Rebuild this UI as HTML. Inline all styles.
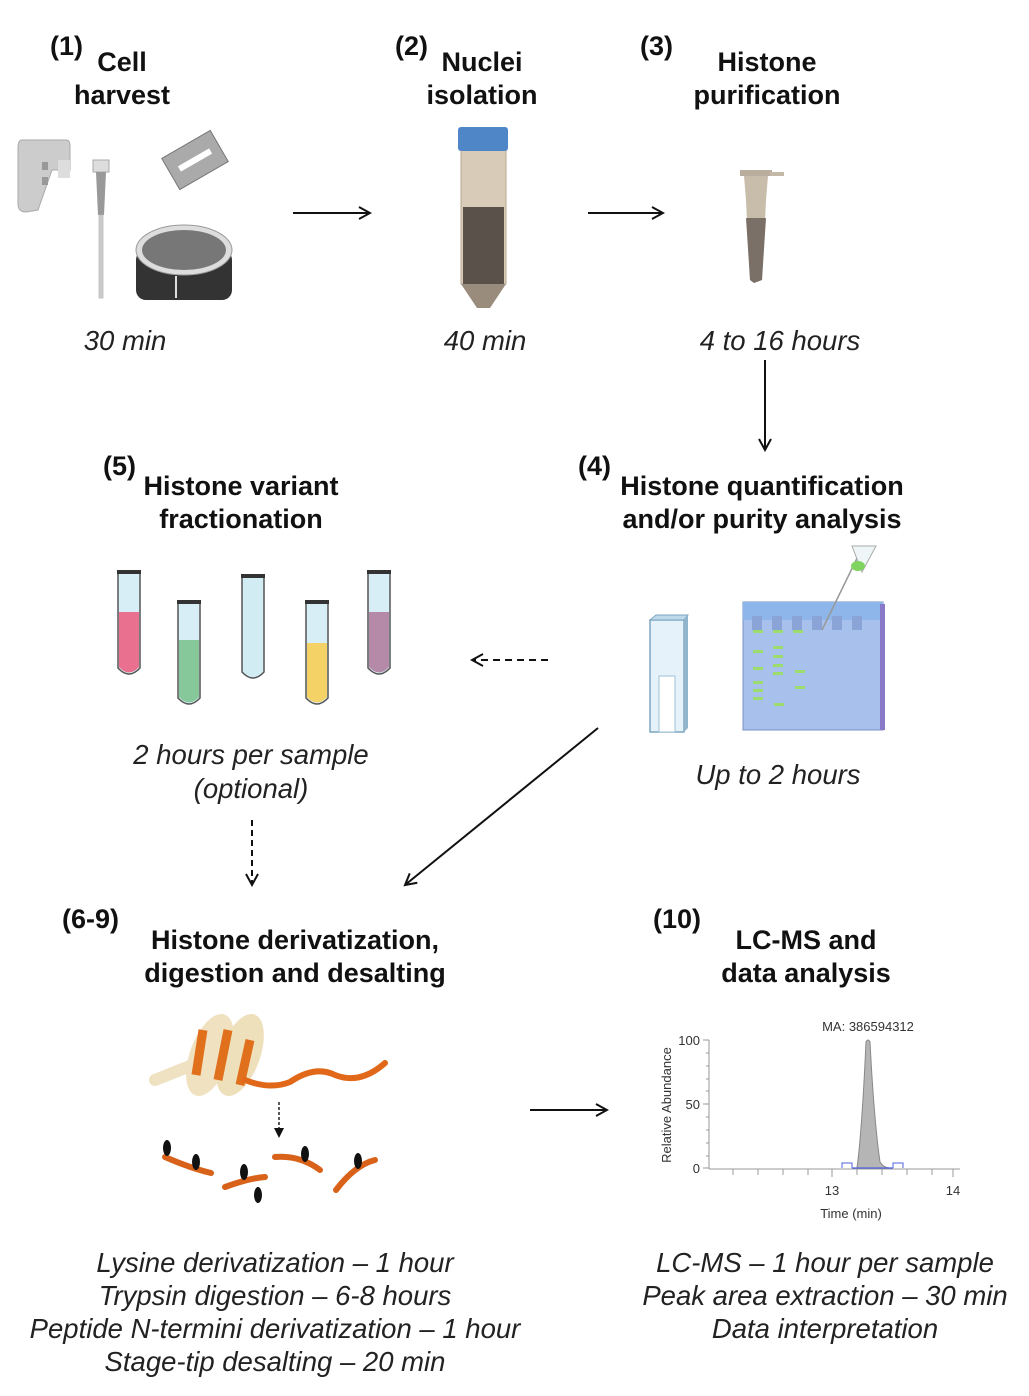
<!DOCTYPE html>
<html><head><meta charset="utf-8"><style>
html,body{margin:0;padding:0;background:#fff}
svg{display:block}
.b{font-family:"Liberation Sans",Arial,sans-serif;font-weight:bold;font-size:27px;fill:#111}
.i{font-family:"Liberation Sans",Arial,sans-serif;font-style:italic;font-size:27.5px;fill:#222}
.s{font-family:"Liberation Sans",Arial,sans-serif;font-size:13px;fill:#333}
</style></head><body>
<svg width="1029" height="1396" viewBox="0 0 1029 1396" xmlns="http://www.w3.org/2000/svg">
<defs>
<marker id="ah" markerWidth="14" markerHeight="14" refX="12" refY="7" orient="auto" markerUnits="userSpaceOnUse">
<path d="M1,1 L12,7 L1,13" fill="none" stroke="#111" stroke-width="2"/></marker>
<marker id="tri" markerWidth="10" markerHeight="10" refX="5" refY="5" orient="auto" markerUnits="userSpaceOnUse">
<path d="M0,0 L10,5 L0,10Z" fill="#111"/></marker>
</defs>

<text class="b" x="50" y="55">(1)</text>
<text class="b" x="122" y="71" text-anchor="middle">Cell</text>
<text class="b" x="122" y="104" text-anchor="middle">harvest</text>
<text class="b" x="395" y="55">(2)</text>
<text class="b" x="482" y="71" text-anchor="middle">Nuclei</text>
<text class="b" x="482" y="104" text-anchor="middle">isolation</text>
<text class="b" x="640" y="55">(3)</text>
<text class="b" x="767" y="71" text-anchor="middle">Histone</text>
<text class="b" x="767" y="104" text-anchor="middle">purification</text>

<text class="i" x="125" y="350" text-anchor="middle">30 min</text>
<text class="i" x="485" y="350" text-anchor="middle">40 min</text>
<text class="i" x="780" y="350" text-anchor="middle">4 to 16 hours</text>

<g>
<path d="M22,140 L66,140 Q70,140 70,146 L70,170 L52,170 L38,210 L26,212 Q18,212 18,204 L18,148 Q18,140 22,140 Z" fill="#ccc" stroke="#aaa"/>
<rect x="42" y="162" width="6" height="8" fill="#999"/><rect x="42" y="177" width="6" height="8" fill="#999"/>
<rect x="58" y="160" width="12" height="18" fill="#ddd"/>
<rect x="93" y="160" width="16" height="12" fill="#ddd" stroke="#aaa"/>
<path d="M96,172 L106,172 L104,215 L98,215Z" fill="#999"/>
<rect x="99" y="215" width="4" height="83" fill="#ccc" stroke="#bbb" stroke-width="0.8"/>
<g transform="translate(195,160) rotate(-30)"><rect x="-28" y="-18" width="56" height="36" fill="#aaa" stroke="#777"/><rect x="-18" y="-3" width="36" height="6" fill="#fff"/></g>
<rect x="136" y="250" width="96" height="50" rx="10" fill="#333"/>
<ellipse cx="184" cy="250" rx="48" ry="25" fill="#ddd" stroke="#999"/>
<ellipse cx="184" cy="250" rx="42" ry="20" fill="#777"/>
<line x1="176" y1="276" x2="176" y2="298" stroke="#ddd" stroke-width="2"/>
</g>
<g>
<rect x="461" y="150" width="45" height="134" fill="#d8cbb8" stroke="#b8a890"/>
<rect x="463" y="207" width="41" height="77" fill="#5a524a"/>
<path d="M461,284 L506,284 L490,308 L477,308Z" fill="#9a8c7c"/>
<rect x="458" y="127" width="50" height="24" rx="3" fill="#4f86c8"/>
</g>
<g>
<rect x="740" y="170" width="32" height="6" fill="#b9ae9e"/>
<rect x="770" y="172" width="14" height="4" fill="#c4b9a8"/>
<path d="M744,176 L768,176 L766,200 L762,280 L754,283 L750,280 L746,200Z" fill="#c8bcaa"/>
<path d="M746,218 L766,218 L762,280 L754,283 L750,280Z" fill="#7a7068"/>
</g>

<line x1="293" y1="213" x2="370" y2="213" stroke="#111" stroke-width="2" marker-end="url(#ah)"/>
<line x1="588" y1="213" x2="663" y2="213" stroke="#111" stroke-width="2" marker-end="url(#ah)"/>
<line x1="765" y1="360" x2="765" y2="450" stroke="#111" stroke-width="2" marker-end="url(#ah)"/>

<text class="b" x="103" y="475">(5)</text>
<text class="b" x="241" y="495" text-anchor="middle">Histone variant</text>
<text class="b" x="241" y="528" text-anchor="middle">fractionation</text>
<text class="b" x="578" y="475">(4)</text>
<text class="b" x="762" y="495" text-anchor="middle">Histone quantification</text>
<text class="b" x="762" y="528" text-anchor="middle">and/or purity analysis</text>

<g stroke="#555" stroke-width="1.5">
<path d="M118,572 L140,572 L140,668 Q129,680 118,668Z" fill="#d8eef6"/>
<path d="M119,612 L139,612 L139,667 Q129,678 119,667Z" fill="#e9718f" stroke="none"/>
<path d="M178,602 L200,602 L200,698 Q189,710 178,698Z" fill="#d8eef6"/>
<path d="M179,640 L199,640 L199,697 Q189,708 179,697Z" fill="#86c89a" stroke="none"/>
<path d="M242,576 L264,576 L264,672 Q253,684 242,672Z" fill="#d2ecf4"/>
<path d="M306,602 L328,602 L328,698 Q317,710 306,698Z" fill="#d8eef6"/>
<path d="M307,643 L327,643 L327,697 Q317,708 307,697Z" fill="#f5d265" stroke="none"/>
<path d="M368,572 L390,572 L390,668 Q379,680 368,668Z" fill="#d8eef6"/>
<path d="M369,612 L389,612 L389,667 Q379,678 369,667Z" fill="#b58aa8" stroke="none"/>
</g>
<g fill="#333"><rect x="117" y="570" width="24" height="4"/><rect x="177" y="600" width="24" height="4"/><rect x="241" y="574" width="24" height="4"/><rect x="305" y="600" width="24" height="4"/><rect x="367" y="570" width="24" height="4"/></g>

<text class="i" x="251" y="764" text-anchor="middle">2 hours per sample</text>
<text class="i" x="251" y="798" text-anchor="middle">(optional)</text>

<line x1="548" y1="660" x2="472" y2="660" stroke="#111" stroke-width="2" stroke-dasharray="7,5" marker-end="url(#ah)"/>
<line x1="252" y1="820" x2="252" y2="885" stroke="#111" stroke-width="2" stroke-dasharray="6,4" marker-end="url(#ah)"/>
<line x1="598" y1="728" x2="405" y2="885" stroke="#111" stroke-width="2" marker-end="url(#ah)"/>

<g>
<path d="M650,620 L684,620 L684,732 L650,732Z" fill="#e6f2fa" stroke="#7ea6c0" stroke-width="1.5"/>
<path d="M650,620 L656,615 L688,615 L684,620Z" fill="#bcd8ea" stroke="#7ea6c0"/>
<path d="M684,620 L688,615 L688,728 L684,732Z" fill="#8fb4cc"/>
<rect x="659" y="676" width="16" height="56" fill="#fff" stroke="#9fc0d6"/>
</g>
<g>
<rect x="743" y="602" width="140" height="128" fill="#a8c0ec" stroke="#7a92c0"/>
<rect x="743" y="602" width="140" height="18" fill="#8fb6ea"/>
<rect x="880" y="604" width="5" height="126" fill="#8a78c8"/>
<g fill="#8aa4d8"><rect x="752" y="616" width="10" height="14"/><rect x="772" y="616" width="10" height="14"/><rect x="792" y="616" width="10" height="14"/><rect x="812" y="616" width="10" height="14"/><rect x="832" y="616" width="10" height="14"/><rect x="852" y="616" width="10" height="14"/></g>
<g fill="#9bdc6c"><rect x="753" y="630" width="10" height="3"/><rect x="773" y="630" width="10" height="3"/><rect x="793" y="630" width="10" height="3"/>
<rect x="753" y="650" width="10" height="3"/><rect x="773" y="646" width="10" height="3"/><rect x="773" y="655" width="10" height="3"/><rect x="753" y="667" width="10" height="3"/><rect x="773" y="664" width="10" height="3"/><rect x="773" y="672" width="10" height="3"/><rect x="795" y="670" width="10" height="3"/><rect x="753" y="681" width="10" height="3"/><rect x="753" y="689" width="10" height="3"/><rect x="753" y="697" width="10" height="3"/><rect x="795" y="686" width="10" height="3"/><rect x="774" y="703" width="10" height="3"/></g>
<line x1="822" y1="630" x2="862" y2="548" stroke="#999" stroke-width="1.5"/>
<path d="M852,546 L876,546 L862,572 Z" fill="#eef6f8" stroke="#aaa"/>
<ellipse cx="858" cy="566" rx="7" ry="5" fill="#7fd45f"/>
</g>
<text class="i" x="778" y="784" text-anchor="middle">Up to 2 hours</text>

<text class="b" x="62" y="928">(6-9)</text>
<text class="b" x="295" y="949" text-anchor="middle">Histone derivatization,</text>
<text class="b" x="295" y="982" text-anchor="middle">digestion and desalting</text>
<text class="b" x="653" y="928">(10)</text>
<text class="b" x="806" y="949" text-anchor="middle">LC-MS and</text>
<text class="b" x="806" y="982" text-anchor="middle">data analysis</text>

<g>
<path d="M155,1080 L200,1062" stroke="#efe2c2" stroke-width="12" stroke-linecap="round"/>
<ellipse cx="210" cy="1055" rx="20" ry="43" fill="#f0e2c0" transform="rotate(20 210 1055)"/>
<ellipse cx="240" cy="1055" rx="20" ry="43" fill="#efe0bc" transform="rotate(20 240 1055)"/>
<g stroke="#e0701c" stroke-width="9"><line x1="203" y1="1030" x2="196" y2="1075"/><line x1="228" y1="1030" x2="218" y2="1080"/><line x1="250" y1="1040" x2="240" y2="1085"/></g>
<path d="M245,1080 Q270,1090 290,1082 Q315,1065 335,1075 Q360,1085 385,1063" fill="none" stroke="#e06818" stroke-width="6" stroke-linecap="round"/>
<line x1="279" y1="1102" x2="279" y2="1133" stroke="#222" stroke-width="1.5" stroke-dasharray="3,2" marker-end="url(#tri)"/>
<g stroke="#d8621a" stroke-width="6" stroke-linecap="round" fill="none">
<path d="M165,1157 Q190,1168 211,1173"/><path d="M225,1187 Q250,1178 265,1177"/><path d="M275,1157 Q300,1155 320,1170"/><path d="M336,1190 Q355,1165 375,1160"/></g>
<g fill="#111"><ellipse cx="167" cy="1148" rx="4" ry="8"/><ellipse cx="196" cy="1162" rx="4" ry="8"/><ellipse cx="244" cy="1172" rx="4" ry="8"/><ellipse cx="258" cy="1195" rx="4" ry="8"/><ellipse cx="305" cy="1154" rx="4" ry="8"/><ellipse cx="358" cy="1161" rx="4" ry="8"/></g>
</g>

<line x1="530" y1="1110" x2="607" y2="1110" stroke="#111" stroke-width="2" marker-end="url(#ah)"/>

<g>
<line x1="709" y1="1040" x2="709" y2="1169" stroke="#999"/>
<line x1="709" y1="1169" x2="960" y2="1169" stroke="#999"/>
<g stroke="#999"><line x1="703" y1="1040" x2="709" y2="1040"/><line x1="703" y1="1104" x2="709" y2="1104"/><line x1="703" y1="1168" x2="709" y2="1168"/>
<line x1="706" y1="1053" x2="709" y2="1053"/><line x1="706" y1="1066" x2="709" y2="1066"/><line x1="706" y1="1079" x2="709" y2="1079"/><line x1="706" y1="1091" x2="709" y2="1091"/><line x1="706" y1="1117" x2="709" y2="1117"/><line x1="706" y1="1130" x2="709" y2="1130"/><line x1="706" y1="1143" x2="709" y2="1143"/><line x1="706" y1="1156" x2="709" y2="1156"/>
<line x1="733" y1="1169" x2="733" y2="1175"/><line x1="758" y1="1169" x2="758" y2="1175"/><line x1="783" y1="1169" x2="783" y2="1175"/><line x1="808" y1="1169" x2="808" y2="1175"/><line x1="832" y1="1169" x2="832" y2="1177"/><line x1="857" y1="1169" x2="857" y2="1175"/><line x1="882" y1="1169" x2="882" y2="1175"/><line x1="907" y1="1169" x2="907" y2="1175"/><line x1="932" y1="1169" x2="932" y2="1175"/><line x1="953" y1="1169" x2="953" y2="1177"/></g>
<path d="M857,1168 Q862,1130 866,1042 Q868,1038 870,1042 Q874,1120 880,1162 Q884,1168 890,1168Z" fill="#b5b5b5" stroke="#888"/>
<line x1="852" y1="1168" x2="893" y2="1168" stroke="#5060e0" stroke-width="1.2"/>
<path d="M842,1168 L842,1163 L852,1163 L852,1168 M893,1168 L893,1163 L903,1163 L903,1168" fill="none" stroke="#5060e0"/>
<text class="s" x="700" y="1045" text-anchor="end">100</text>
<text class="s" x="700" y="1109" text-anchor="end">50</text>
<text class="s" x="700" y="1173" text-anchor="end">0</text>
<text class="s" x="832" y="1195" text-anchor="middle">13</text>
<text class="s" x="953" y="1195" text-anchor="middle">14</text>
<text class="s" x="851" y="1218" text-anchor="middle">Time (min)</text>
<text class="s" x="868" y="1031" text-anchor="middle">MA: 386594312</text>
<text class="s" transform="translate(671,1105) rotate(-90)" text-anchor="middle">Relative Abundance</text>
</g>

<text class="i" x="275" y="1272" text-anchor="middle">Lysine derivatization – 1 hour</text>
<text class="i" x="275" y="1305" text-anchor="middle">Trypsin digestion – 6-8 hours</text>
<text class="i" x="275" y="1338" text-anchor="middle">Peptide N-termini derivatization – 1 hour</text>
<text class="i" x="275" y="1371" text-anchor="middle">Stage-tip desalting – 20 min</text>
<text class="i" x="825" y="1272" text-anchor="middle">LC-MS – 1 hour per sample</text>
<text class="i" x="825" y="1305" text-anchor="middle">Peak area extraction – 30 min</text>
<text class="i" x="825" y="1338" text-anchor="middle">Data interpretation</text>
</svg>
</body></html>
